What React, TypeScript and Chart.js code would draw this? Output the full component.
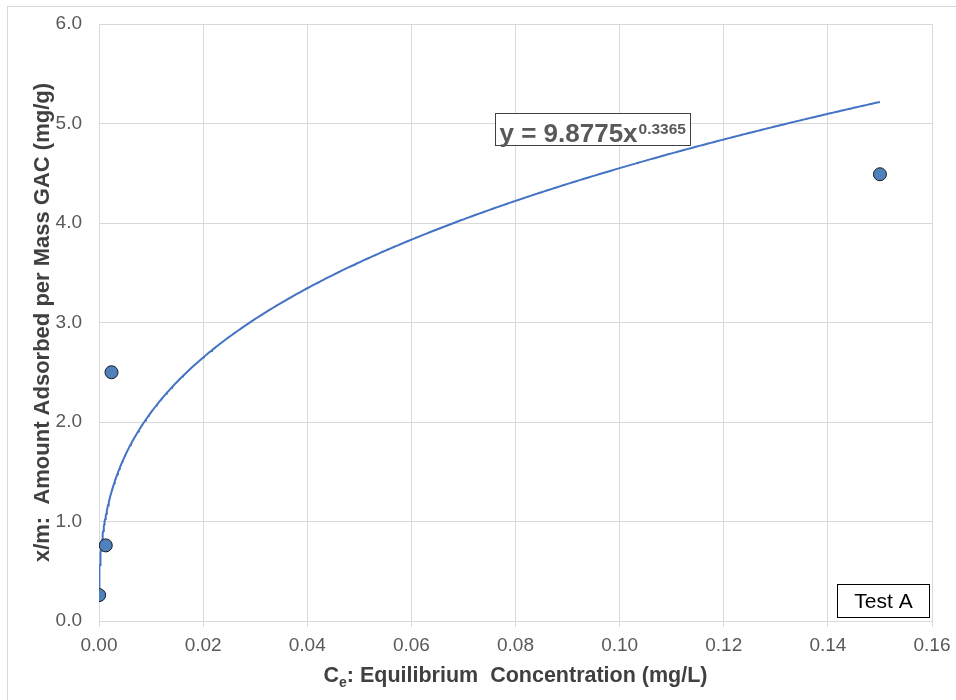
import React, { useEffect, useRef } from "react";
import { Chart, registerables } from "chart.js";

Chart.register(...registerables);

// ---- data ----
const ceValues = [0.00002, 0.0013, 0.0024, 0.15];
const xmValues = [0.26, 0.76, 2.5, 4.49];
const fitCoef = 9.8775;
const fitExp = 0.3365;
const xMin = 0;
const xMax = 0.16;
const xStep = 0.02;
const yMin = 0;
const yMax = 6;
const yStep = 1;
const yTitle = "x/m:  Amount Adsorbed per Mass GAC (mg/g)";
const xTitleMain = "C";
const xTitleSub = "e";
const xTitleRest = ": Equilibrium  Concentration (mg/L)";
const eqMain = "y = 9.8775x";
const eqSup = "0.3365";
const legendLabel = "Test A";
// annotation anchors in data units
const eqAnchor = { x: 0.076, y: 5.11 };
const testAnchor = { x: 0.1418, y: 0.37 };

const FONT = "'Liberation Sans', Arial, sans-serif";

function buildFit() {
  const lo = ceValues[0];
  const hi = ceValues[ceValues.length - 1];
  const xs: number[] = [];
  const nLog = 120;
  for (let i = 0; i <= nLog; i++) xs.push(lo * Math.pow(hi / lo, i / nLog));
  const nLin = 300;
  for (let i = 0; i <= nLin; i++) xs.push(lo + ((hi - lo) * i) / nLin);
  xs.sort((a, b) => a - b);
  return xs.map((x) => ({ x, y: fitCoef * Math.pow(x, fitExp) }));
}

const decorPlugin = {
  id: "decor",
  beforeDraw(chart: any) {
    const ctx = chart.ctx;
    ctx.save();
    ctx.fillStyle = "#ffffff";
    ctx.fillRect(0, 0, chart.width, chart.height);
    ctx.strokeStyle = "#d9d9d9";
    ctx.lineWidth = 1;
    ctx.strokeRect(7.5, 6.5, chart.width + 10, chart.height + 10);
    ctx.restore();
  },
  afterDraw(chart: any) {
    const ctx = chart.ctx;
    const area = chart.chartArea;
    const xs = chart.scales.x;
    const ys = chart.scales.y;
    ctx.save();
    // y title
    ctx.fillStyle = "#404040";
    ctx.font = `bold 22px ${FONT}`;
    ctx.textAlign = "center";
    ctx.textBaseline = "middle";
    ctx.translate(43, (area.top + area.bottom) / 2);
    ctx.rotate(-Math.PI / 2);
    ctx.fillText(yTitle, 0, 0);
    ctx.restore();

    // x title with subscript
    ctx.save();
    ctx.fillStyle = "#404040";
    ctx.textBaseline = "alphabetic";
    ctx.textAlign = "left";
    const fMain = `bold 21.5px ${FONT}`;
    const fSub = `bold 14px ${FONT}`;
    ctx.font = fMain;
    const wC = ctx.measureText(xTitleMain).width;
    const wR = ctx.measureText(xTitleRest).width;
    ctx.font = fSub;
    const wS = ctx.measureText(xTitleSub).width;
    const total = wC + wS + wR;
    let x0 = (area.left + area.right) / 2 - total / 2;
    const base = 682;
    ctx.font = fMain;
    ctx.fillText(xTitleMain, x0, base);
    x0 += wC;
    ctx.font = fSub;
    ctx.fillText(xTitleSub, x0, base + 5);
    x0 += wS;
    ctx.font = fMain;
    ctx.fillText(xTitleRest, x0, base);
    ctx.restore();

    // equation box
    ctx.save();
    const bx = Math.round(xs.getPixelForValue(eqAnchor.x)) + 0.5;
    const by = Math.round(ys.getPixelForValue(eqAnchor.y)) + 0.5;
    const fEq = `bold 26px ${FONT}`;
    const fEqSup = `bold 15.5px ${FONT}`;
    ctx.font = fEq;
    const wEq = ctx.measureText(eqMain).width;
    ctx.font = fEqSup;
    const wSup = ctx.measureText(eqSup).width;
    const bw = Math.round(wEq + wSup + 10);
    const bh = 32;
    ctx.fillStyle = "#ffffff";
    ctx.fillRect(bx, by, bw, bh);
    ctx.strokeStyle = "#404040";
    ctx.lineWidth = 1;
    ctx.strokeRect(bx, by, bw, bh);
    ctx.fillStyle = "#595959";
    ctx.textBaseline = "alphabetic";
    ctx.textAlign = "left";
    ctx.font = fEq;
    ctx.fillText(eqMain, bx + 4, by + 28.5);
    ctx.font = fEqSup;
    ctx.fillText(eqSup, bx + 4 + wEq + 1, by + 20.5);
    ctx.restore();

    // Test A box
    ctx.save();
    const tx = Math.round(xs.getPixelForValue(testAnchor.x)) + 0.5;
    const ty = Math.round(ys.getPixelForValue(testAnchor.y)) + 0.5;
    const tw = 92;
    const th = 33;
    ctx.fillStyle = "#ffffff";
    ctx.fillRect(tx, ty, tw, th);
    ctx.strokeStyle = "#000000";
    ctx.lineWidth = 1;
    ctx.strokeRect(tx, ty, tw, th);
    ctx.fillStyle = "#000000";
    ctx.font = `21px ${FONT}`;
    ctx.textAlign = "center";
    ctx.textBaseline = "middle";
    ctx.fillText(legendLabel, tx + tw / 2, ty + th / 2 + 1);
    ctx.restore();
  },
};

export default function App() {
  const ref = useRef<HTMLCanvasElement | null>(null);
  useEffect(() => {
    if (!ref.current) return;
    const points = ceValues.map((x, i) => ({ x, y: xmValues[i] }));
    const chart = new Chart(ref.current, {
      type: "scatter",
      data: {
        datasets: [
          {
            label: "data",
            data: points,
            pointRadius: 6.5,
            pointHoverRadius: 6.5,
            pointBackgroundColor: "#4F81BD",
            pointBorderColor: "#1a1a1a",
            pointBorderWidth: 1,
            showLine: false,
            order: 0,
          },
          {
            label: "fit",
            data: buildFit(),
            showLine: true,
            borderColor: "#4472C4",
            borderWidth: 2,
            pointRadius: 0,
            fill: false,
            tension: 0,
            order: 1,
          },
        ],
      },
      options: {
        responsive: false,
        animation: false,
        devicePixelRatio: 1,
        layout: { padding: { left: 0, top: 24, right: 24, bottom: 0 } },
        plugins: {
          legend: { display: false },
          tooltip: { enabled: false },
        },
        scales: {
          x: {
            type: "linear",
            min: xMin,
            max: xMax,
            afterFit: (s: any) => {
              s.height = 79;
              s.paddingLeft = 0;
              s.paddingRight = 0;
            },
            ticks: {
              stepSize: xStep,
              color: "#595959",
              font: { family: FONT, size: 19 },
              padding: 7,
              maxRotation: 0,
              callback: (v: any) => Number(v).toFixed(2),
            },
            grid: {
              color: "#d9d9d9",
              lineWidth: 1,
              drawTicks: true,
              tickLength: 6,
            },
            border: { color: "#d9d9d9" },
          },
          y: {
            type: "linear",
            min: yMin,
            max: yMax,
            afterFit: (s: any) => {
              s.width = 99;
              s.paddingTop = 0;
              s.paddingBottom = 0;
            },
            ticks: {
              stepSize: yStep,
              color: "#595959",
              font: { family: FONT, size: 19 },
              padding: 17,
              callback: (v: any) => Number(v).toFixed(1),
            },
            grid: {
              color: "#d9d9d9",
              lineWidth: 1,
              drawTicks: false,
            },
            border: { color: "#d9d9d9" },
          },
        },
      },
      plugins: [decorPlugin],
    });
    return () => chart.destroy();
  }, []);
  return (
    <div style={{ position: "absolute", left: 0, top: 0, width: 956, height: 700 }}>
      <canvas ref={ref} width={956} height={700} style={{ display: "block" }} />
    </div>
  );
}
